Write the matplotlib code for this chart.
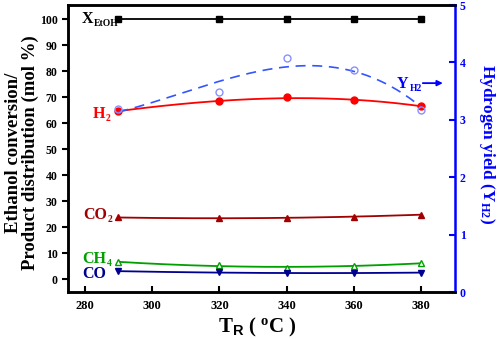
import numpy as np
import matplotlib.pyplot as plt

# temperatures (deg C)
temps = [290, 320, 340, 360, 380]

# left axis, mol %
x_etoh = [100, 100, 100, 100, 100]
h2 = [64.7, 68.4, 70.0, 68.8, 66.6]
co2 = [23.7, 23.4, 23.6, 24.0, 24.8]
ch4 = [6.5, 5.4, 4.4, 4.9, 6.2]
co = [3.0, 2.6, 2.2, 2.3, 2.5]

# right axis, hydrogen yield
y_h2 = [3.19, 3.49, 4.07, 3.87, 3.18]

plt.rcParams['font.family'] = ['Liberation Serif', 'DejaVu Serif']
plt.rcParams['font.weight'] = 'bold'
plt.rcParams['mathtext.fontset'] = 'custom'
plt.rcParams['mathtext.rm'] = 'Liberation Serif:bold'
plt.rcParams['mathtext.it'] = 'Liberation Serif:bold'
plt.rcParams['mathtext.bf'] = 'Liberation Serif:bold'
plt.rcParams['mathtext.sf'] = 'Liberation Sans:bold'


def smooth(xs, ys, deg=3):
    xf = np.linspace(min(xs), max(xs), 200)
    return xf, np.polyval(np.polyfit(xs, ys, deg), xf)


def label(axis, x, y, main, sub, color, size=11.5):
    # main text plus a small subscript hung off its lower right corner
    t = axis.text(x, y, main, fontsize=size, ha='left', va='baseline',
                  color=color)
    axis.annotate(sub, xy=(1, 0), xycoords=t, xytext=(0.5, 2.5),
                  textcoords='offset points', fontsize=size * 0.6,
                  ha='left', va='center', color=color)


fig = plt.figure(figsize=(4.98, 3.39), dpi=100)
ax = fig.add_axes([0.1365, 0.1386, 0.7772, 0.8464])
ax2 = ax.twinx()

series = [
    (x_etoh, 'black', 's', True, 1, 4.2),
    (h2, 'red', 'o', True, 3, 5),
    (co2, '#a00000', '^', True, 2, 5),
    (ch4, '#00a000', '^', False, 2, 5),
    (co, '#000090', 'v', True, 2, 5),
]
for vals, col, mk, filled, deg, ms in series:
    xf, yf = smooth(temps, vals, deg)
    ax.plot(xf, yf, color=col, lw=1.3)
    ax.plot(temps, vals, ls='none', marker=mk, ms=ms, color=col,
            mfc=col if filled else 'white', mec=col, mew=1)

# yield trend: mean of a 2nd and 3rd order fit
xf, yq = smooth(temps, y_h2, 2)
_, yc = smooth(temps, y_h2, 3)
ax2.plot(xf, (yq + yc) / 2, color='#3355ff', lw=1.2, ls=(0, (6, 4)))
ax2.plot(temps, y_h2, ls='none', marker='o', ms=5, mfc='none',
         mec='#8890ff', mew=1)

ax.set_xlim(275, 390)
ax.set_ylim(-5, 105.5)
ax2.set_ylim(0, 5)
ax.set_xticks([280, 300, 320, 340, 360, 380])
ax.set_yticks(range(0, 101, 10))
ax2.set_yticks(range(0, 6))

ax.tick_params(axis='x', direction='in', length=4, width=1.5, labelsize=9, pad=6)
ax.tick_params(axis='y', direction='out', length=4, width=1.5, labelsize=8.5)
ax2.tick_params(axis='y', direction='in', length=4, width=1.5, labelsize=8.5,
                colors='blue')
for s in ['left', 'bottom', 'top']:
    ax.spines[s].set_linewidth(1.8)
    ax2.spines[s].set_linewidth(1.8)
ax2.spines['right'].set_color('blue')
ax2.spines['right'].set_linewidth(1.8)
ax.spines['right'].set_visible(False)

fig.text(22 / 498, 1 - 153 / 339,
         'Ethanol conversion/\nProduct distribution (mol %)',
         fontsize=13.5, fontweight='bold', rotation=90, ha='center',
         va='center', multialignment='center', linespacing=0.95)
fig.text(257 / 498, 1 - 327 / 339,
         r'T$_\mathsf{R}$ ( $^\mathregular{o}$C )', fontsize=15,
         fontweight='bold', ha='center', va='center')
fig.text(487 / 498, 1 - 144 / 339, r'Hydrogen yield (Y$_\mathregular{H2}$)',
         fontsize=12.5, fontweight='bold', color='blue', rotation=270,
         ha='center', va='center')

label(ax, 279.2, 98.5, 'X', 'EtOH', 'black')
label(ax, 282.4, 61.9, 'H', '2', 'red')
label(ax, 279.5, 23.0, 'CO', '2', '#a00000')
label(ax, 279.2, 6.0, 'CH', '4', '#00a000')
ax.text(279.2, 0.3, 'CO', fontsize=11.5, ha='left', va='baseline',
        color='#000090')
label(ax2, 372.8, 3.55, 'Y', 'H2', 'blue')
ax2.annotate('', xy=(387.2, 3.64), xytext=(379.6, 3.64),
             arrowprops=dict(arrowstyle='-|>', color='blue', lw=1.3,
                             mutation_scale=8))

fig.savefig('out.png', dpi=100)
